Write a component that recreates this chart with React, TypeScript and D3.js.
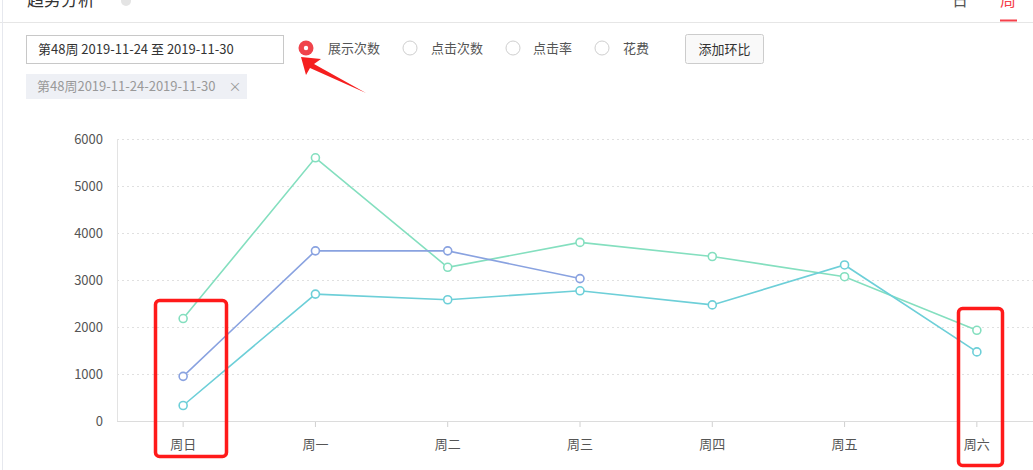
import React from "react";
import * as d3 from "d3";

const categories = ["周日", "周一", "周二", "周三", "周四", "周五", "周六"];
const seriesGreen = [2180, 5600, 3270, 3800, 3500, 3070, 1930];
const seriesBlue = [950, 3620, 3620, 3030];
const seriesCyan = [330, 2700, 2580, 2770, 2470, 3320, 1470];
const yTicks = [0, 1000, 2000, 3000, 4000, 5000, 6000];
const radioLabels = ["展示次数", "点击次数", "点击率", "花费"];

const W = 1033;
const H = 470;
const FONT = "'Noto Sans CJK SC', 'Microsoft YaHei', sans-serif";

const series = [
  { name: "green", values: seriesGreen, color: "#84dfbf" },
  { name: "blue", values: seriesBlue, color: "#89a2e0" },
  { name: "cyan", values: seriesCyan, color: "#6dcfd8" },
];

export default function App() {
  const x = d3.scaleBand<string>().domain(categories).range([117, 1043]);
  const y = d3.scaleLinear().domain([0, 6000]).range([421, 139]);
  const cx = (c: string) => (x(c) as number) + x.bandwidth() / 2;
  const line = d3
    .line<number>()
    .x((_, i) => cx(categories[i]))
    .y((d) => y(d));

  const radioX = [306, 410, 513, 602];
  const radioTextX = [328, 431, 533, 623];

  return (
    <svg
      width={W}
      height={H}
      style={{ position: "absolute", left: 0, top: 0, background: "#fff" }}
      fontFamily={FONT}
    >
      <rect x={0} y={0} width={W} height={H} fill="#fff" />
      {/* header */}
      <text x={27} y={6} fontSize={17} fill="#333">趋势分析</text>
      <circle cx={126} cy={1} r={5} fill="#e4e4e4" />
      <text x={960} y={6} fontSize={16} fill="#555" textAnchor="middle">日</text>
      <text x={1008} y={6} fontSize={16} fill="#f5414b" textAnchor="middle">周</text>
      <line x1={0} x2={W} y1={22.5} y2={22.5} stroke="#e6e6e6" />
      <rect x={1000} y={19.5} width={17} height={2} fill="#f5414b" />
      <line x1={2.5} x2={2.5} y1={0} y2={H} stroke="#e6e8ee" />

      {/* controls */}
      <rect x={26.5} y={35.5} width={257} height={28} fill="#fff" stroke="#c8c8c8" />
      <text x={38} y={54} fontSize={13} fill="#333">第48周 2019-11-24 至 2019-11-30</text>
      <rect x={26} y={74} width={221} height={25} fill="#eef0f5" />
      <text x={37} y={91} fontSize={13} fill="#999">第48周2019-11-24-2019-11-30</text>
      <text x={235} y={91} fontSize={13} fill="#999" textAnchor="middle">×</text>

      {radioLabels.map((lab, i) => (
        <g key={lab}>
          {i === 0 ? (
            <>
              <circle cx={radioX[i]} cy={48} r={7.5} fill="#f0434b" />
              <circle cx={radioX[i]} cy={48} r={2.2} fill="#fff" />
            </>
          ) : (
            <circle cx={radioX[i]} cy={48} r={7} fill="#fff" stroke="#cfcfcf" />
          )}
          <text x={radioTextX[i]} y={53} fontSize={13} fill="#555">{lab}</text>
        </g>
      ))}
      <rect x={685.5} y={34.5} width={78} height={29} rx={2} fill="#f9f9f9" stroke="#cccccc" />
      <text x={724.5} y={54} fontSize={13} fill="#333" textAnchor="middle">添加环比</text>

      {/* grid */}
      {yTicks.map((t) => (
        <g key={t}>
          {t > 0 && (
            <line
              x1={117}
              x2={W}
              y1={y(t) + 0.5}
              y2={y(t) + 0.5}
              stroke="#e0e0e0"
              strokeDasharray="2,3"
            />
          )}
          <text x={103} y={y(t) + 4.5} fontSize={13} fill="#555" textAnchor="end">
            {t}
          </text>
        </g>
      ))}
      <line x1={117.5} x2={117.5} y1={139} y2={421} stroke="#e3e3e3" />
      <line x1={117} x2={W} y1={421.5} y2={421.5} stroke="#dcdcdc" />
      {categories.map((c) => (
        <g key={c}>
          <line x1={cx(c)} x2={cx(c)} y1={422} y2={427} stroke="#d0d0d0" />
          <text x={cx(c)} y={449} fontSize={13} fill="#555" textAnchor="middle">
            {c}
          </text>
        </g>
      ))}

      {/* series */}
      {series.map((s) => (
        <g key={s.name}>
          <path d={line(s.values) || ""} fill="none" stroke={s.color} strokeWidth={1.6} />
          {s.values.map((v, i) => (
            <circle
              key={i}
              cx={cx(categories[i])}
              cy={y(v)}
              r={4}
              fill="#fff"
              stroke={s.color}
              strokeWidth={1.6}
            />
          ))}
        </g>
      ))}

      {/* annotations */}
      <rect x={155.5} y={300.5} width={71} height={156} rx={4} fill="none" stroke="#ff1a1a" strokeWidth={3.5} />
      <rect x={958.5} y={308.5} width={44} height={157} rx={4} fill="none" stroke="#ff1a1a" strokeWidth={3.5} />
      <polygon
        points="301,57 321,59 314,64 366,93 310,68 306,75"
        fill="#f51f1f"
      />
    </svg>
  );
}
